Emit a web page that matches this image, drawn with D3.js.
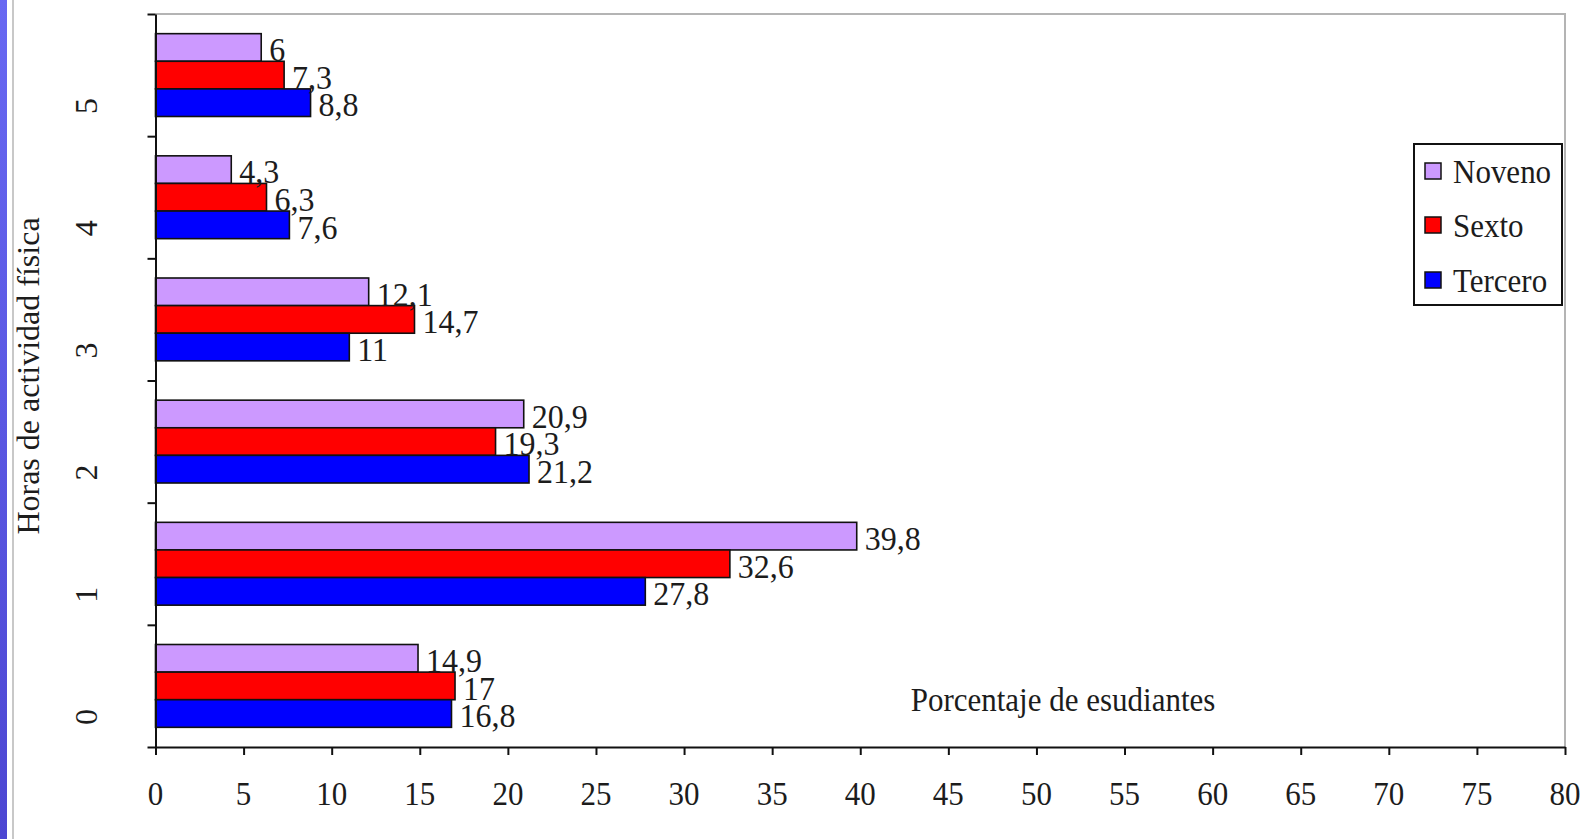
<!DOCTYPE html>
<html>
<head>
<meta charset="utf-8">
<script src="https://cdn.jsdelivr.net/npm/d3@7/dist/d3.min.js"></script>
<style>
  html, body { margin: 0; padding: 0; background: #fff; }
  svg { display: block; }
  text { font-family: "Liberation Serif", "Times New Roman", serif; fill: #1c1c1c; }
</style>
</head>
<body>
<svg id="chart" width="1583" height="839"></svg>
<script>
// Hours of weekly physical activity (0–5) by school grade
const categories = ["0", "1", "2", "3", "4", "5"];
const seriesNames = ["Noveno", "Sexto", "Tercero"];
const noveno  = [14.9, 39.8, 20.9, 12.1, 4.3, 6];
const sexto   = [17, 32.6, 19.3, 14.7, 6.3, 7.3];
const tercero = [16.8, 27.8, 21.2, 11, 7.6, 8.8];
const xTicks = [0, 5, 10, 15, 20, 25, 30, 35, 40, 45, 50, 55, 60, 65, 70, 75, 80];

const colors = { Noveno: "#cc99ff", Sexto: "#ff0000", Tercero: "#0000ff" };
const values = { Noveno: noveno, Sexto: sexto, Tercero: tercero };

const svg = d3.select("#chart");
const W = 1583, H = 839;
const plotL = 155.5, plotR = 1565, plotT = 14, plotB = 747;
const FS = 31, STRETCH = 1.1;

// side strip and panel edge
const defs = svg.append("defs");
const grad = defs.append("linearGradient").attr("id", "strip")
  .attr("x1", 0).attr("y1", 0).attr("x2", 0).attr("y2", 1);
grad.append("stop").attr("offset", 0).attr("stop-color", "#6868f2");
grad.append("stop").attr("offset", 1).attr("stop-color", "#4c46d2");
svg.append("rect").attr("x", 0).attr("y", 0).attr("width", 7).attr("height", H).attr("fill", "url(#strip)");
svg.append("line").attr("x1", 13).attr("x2", 13).attr("y1", 0).attr("y2", H)
  .attr("stroke", "#c8c8c8").attr("stroke-width", 2);

// scales
const x = d3.scaleLinear().domain([0, 80]).range([plotL, plotR]);
const y = d3.scaleBand().domain(categories.slice().reverse()).range([plotT, plotB]).padding(0);
const yLin = d3.scaleLinear().domain([0, categories.length]).range([plotB, plotT]);
const inner = d3.scaleBand().domain(seriesNames)
  .range([y.bandwidth() * 0.161, y.bandwidth() * 0.839]).padding(0);

// plot frame (top and right edges)
svg.append("path")
  .attr("d", `M${plotL},${plotT} H${plotR} V${plotB}`)
  .attr("fill", "none").attr("stroke", "#b4b4b4").attr("stroke-width", 2);

// text helper; horizontal text gets a slight vertical stretch
function txt(g, s, px, py, opts = {}) {
  const sy = opts.stretch || STRETCH;
  const tf = opts.rotate
    ? `translate(${px},${py}) rotate(${opts.rotate})`
    : `translate(${px},${py}) scale(1,${sy})`;
  const t = g.append("text")
    .attr("transform", tf)
    .attr("font-size", opts.size || FS)
    .attr("text-anchor", opts.anchor || "start")
    .text(s);
  if (opts.baseline) t.attr("dominant-baseline", opts.baseline);
  return t;
}

// bars
const rows = [];
categories.forEach((c, i) => {
  seriesNames.forEach(s => rows.push({ cat: c, series: s, value: values[s][i] }));
});

const barG = svg.append("g");
barG.selectAll("rect").data(rows).join("rect")
  .attr("x", x(0))
  .attr("y", d => y(d.cat) + inner(d.series))
  .attr("width", d => x(d.value) - x(0))
  .attr("height", inner.bandwidth())
  .attr("fill", d => colors[d.series])
  .attr("stroke", "#111").attr("stroke-width", 1.6);

// value labels
const labG = svg.append("g");
rows.forEach(d => {
  txt(labG, String(d.value).replace(".", ","),
    x(d.value) + 8, y(d.cat) + inner(d.series) + inner.bandwidth(),
    { size: 32, stretch: 1.065 });
});

// x axis
const xAxis = svg.append("g").attr("transform", `translate(0,${plotB})`)
  .call(d3.axisBottom(x).tickValues(xTicks).tickSize(8).tickSizeOuter(0).tickFormat(""));
xAxis.select(".domain").attr("stroke", "#111").attr("stroke-width", 2);
xAxis.selectAll(".tick line").attr("stroke", "#111").attr("stroke-width", 2);
const xLab = svg.append("g");
xTicks.forEach(v => txt(xLab, String(v), x(v), 793, { anchor: "middle", baseline: "central" }));

// y axis (tick marks at category boundaries)
const yAxis = svg.append("g").attr("transform", `translate(${plotL},0)`)
  .call(d3.axisLeft(yLin).tickValues(d3.range(categories.length + 1)).tickSize(8).tickSizeOuter(0).tickFormat(""));
yAxis.select(".domain").attr("stroke", "#111").attr("stroke-width", 2);
yAxis.selectAll(".tick line").attr("stroke", "#111").attr("stroke-width", 2);
const yLab = svg.append("g");
categories.forEach(c => {
  txt(yLab, c, 86, y(c) + y.bandwidth() / 2 + 31, { anchor: "middle", baseline: "central", rotate: -90, size: 32 });
});

// axis titles
txt(svg, "Horas de actividad física", 28, 376, { anchor: "middle", baseline: "central", rotate: -90, size: 32 });
txt(svg, "Porcentaje de esudiantes", 1063, 699, { anchor: "middle", baseline: "central" });

// legend
const lg = svg.append("g");
lg.append("rect").attr("x", 1414).attr("y", 144).attr("width", 148).attr("height", 161)
  .attr("fill", "#fff").attr("stroke", "#111").attr("stroke-width", 2);
const legendY = [171, 225, 280];
seriesNames.forEach((s, i) => {
  lg.append("rect").attr("x", 1425).attr("y", legendY[i] - 8).attr("width", 16).attr("height", 16)
    .attr("fill", colors[s]).attr("stroke", "#111").attr("stroke-width", 1.5);
  txt(lg, s, 1453, legendY[i], { baseline: "central" });
});
</script>
</body>
</html>
